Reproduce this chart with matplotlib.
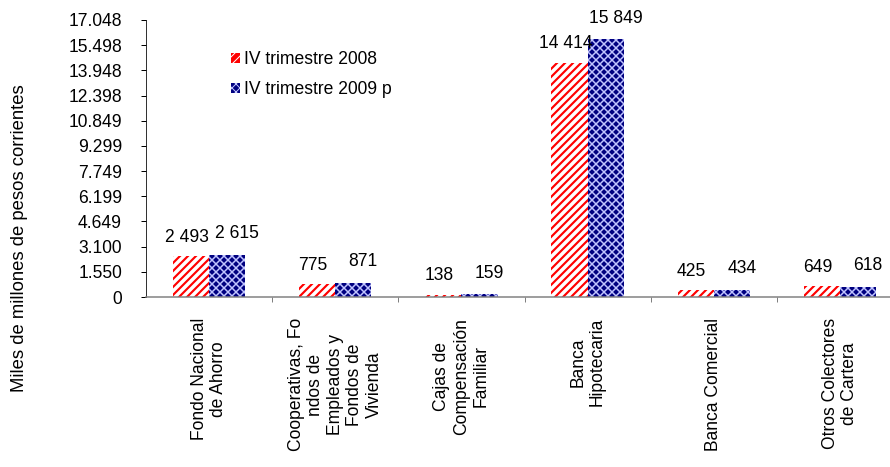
import numpy as np
import matplotlib
matplotlib.use('Agg')
import matplotlib.pyplot as plt

plt.rcParams['font.family'] = ['Liberation Sans', 'DejaVu Sans']

categorias = ["Fondo Nacional\nde Ahorro",
              "Cooperativas, Fo\nndos de\nEmpleados y\nFondos de\nVivienda",
              "Cajas de\nCompensación\nFamiliar",
              "Banca\nHipotecaria",
              "Banca Comercial",
              "Otros Colectores\nde Cartera"]
trim_2008 = [2493, 775, 138, 14414, 425, 649]
trim_2009 = [2615, 871, 159, 15849, 434, 618]
serie_2008 = "IV trimestre 2008"
serie_2009 = "IV trimestre 2009 p"
y_max = 17048
y_labels = ["0", "1.550", "3.100", "4.649", "6.199", "7.749", "9.299",
            "10.849", "12.398", "13.948", "15.498", "17.048"]

# dpi 72 -> 1pt == 1px
fig = plt.figure(figsize=(890 / 72, 467 / 72), dpi=72)
ax = fig.add_axes([146 / 890, 1 - 297 / 467, 757 / 890, 277 / 467])

x = np.arange(len(categorias))
w = 0.286
fs = 17.5

with plt.rc_context({'hatch.linewidth': 3.5}):
  b1 = ax.bar(x - w / 2, trim_2008, w, color='#ff0000', edgecolor='white',
              linewidth=0, hatch='///', label=serie_2008)
with plt.rc_context({'hatch.linewidth': 1.5}):
  b2 = ax.bar(x + w / 2, trim_2009, w, color='#000080', edgecolor='#c0c4ff',
              linewidth=0, hatch='xxx', label=serie_2009)

def fmt(v):
  return '{:,}'.format(v).replace(',', ' ')

for xi, v in zip(x, trim_2008):
  ax.annotate(fmt(v), (xi - w / 2, v), xytext=(-4, 19), textcoords='offset points',
              ha='center', va='center', fontsize=fs)
for xi, v in zip(x, trim_2009):
  ax.annotate(fmt(v), (xi + w / 2, v), xytext=(10, 21), textcoords='offset points',
              ha='center', va='center', fontsize=fs)

ax.set_xlim(-0.5, len(categorias) - 0.5)
ax.set_ylim(0, y_max)
ax.set_yticks(np.arange(len(y_labels)) * y_max / (len(y_labels) - 1))
ax.set_yticklabels(y_labels, fontsize=fs)
ax.tick_params(axis='y', length=5, width=1, pad=19, color='black')

ax.set_xticks(x)
ax.set_xticklabels(categorias, rotation=90, fontsize=fs, va='top', ha='center',
                   multialignment='center')
ax.tick_params(axis='x', which='major', length=0, pad=21)
ax.set_xticks(x[:-1] + 0.5, minor=True)
ax.tick_params(axis='x', which='minor', length=5, width=1, color='#808080')

ax.spines['top'].set_visible(False)
ax.spines['right'].set_visible(False)
ax.spines['left'].set_color('black')
ax.spines['bottom'].set_color('#808080')
ax.spines['bottom'].set_linewidth(1.5)

ax.legend(loc='upper left', bbox_to_anchor=(231 / 890, 1 - 51 / 467),
          bbox_transform=fig.transFigure, frameon=False, fontsize=fs,
          handlelength=0.5, handleheight=0.5, handletextpad=0.25,
          labelspacing=0.75, borderpad=0, borderaxespad=0)

fig.text(20 / 890, 1 - 238 / 467, "Miles de millones de pesos corrientes",
         rotation=90, ha='center', va='center', fontsize=18.5)

fig.savefig('out.png', dpi=72)
